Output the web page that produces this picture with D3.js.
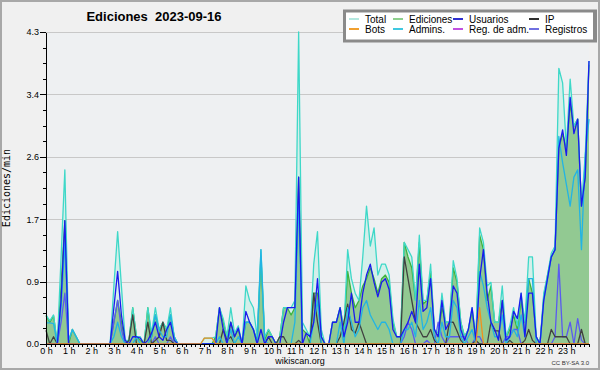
<!DOCTYPE html>
<html>
<head>
<meta charset="utf-8">
<script src="https://cdn.jsdelivr.net/npm/d3@7"></script>
<style>
  html, body { margin: 0; padding: 0; background: #f0f0f0; }
  svg { display: block; font-family: "Liberation Sans", Arial, sans-serif; }
</style>
</head>
<body>
<script>
// one value every 10 minutes, 00:00 .. 24:00 (145 points)
const hourLabels = ["0 h","1 h","2 h","3 h","4 h","5 h","6 h","7 h","8 h","9 h","10 h","11 h",
  "12 h","13 h","14 h","15 h","16 h","17 h","18 h","19 h","20 h","21 h","22 h","23 h"];
const yTicks = [0, 0.86, 1.72, 2.58, 3.44, 4.3];

const total = [
  0.4,0.32,0.4,0,1.2,2.4,0.05,0.2,0.1,0,0,0,
  0,0,0,0,0,0,0.8,1.55,0.8,0.05,0.05,0.5,
  0.1,0.1,0,0.5,0.15,0.5,0.2,0.3,0.2,0.5,0.1,0,
  0,0,0,0,0,0,0.08,0.08,0.08,0.1,0.5,0.35,
  0.1,0.5,0.15,0.25,0,0.8,0.6,0.5,0.1,1.3,0.1,0.2,
  0.1,0,0.1,0.5,0.5,0.5,0.6,4.3,0.3,0.2,0.1,1.1,
  1.55,0.2,0,0,0.3,0.3,0.5,0.2,1.3,0.9,0.7,0.6,
  1.2,1.9,1.35,1.6,0.95,1.1,1.1,0.95,0.35,0.1,0.1,1.4,
  1.3,1.2,0.6,1.5,0.6,0.6,1.1,0.2,0.15,0.7,0.3,0.3,
  1.15,0.9,0.3,0.1,0.2,0.5,0.1,1.6,1.4,0.8,0.85,0.3,
  0.3,0.8,0.1,0.25,0.5,0.25,0.7,0.3,1.2,1.2,0.1,0,
  0.7,0.95,1.25,1.35,3.8,3.6,2.7,3.65,3.0,3.1,1.9,2.6,
  3.9];
const ediciones = [
  0.39,0.3,0.39,0,0.8,1.7,0,0.2,0.1,0,0,0,
  0,0,0,0,0,0,0.3,0.6,0.3,0,0.05,0.5,
  0.1,0.05,0,0.5,0.1,0.4,0.2,0.3,0.2,0.4,0.1,0,
  0,0,0,0,0,0,0,0,0,0.1,0.5,0.3,
  0.1,0.3,0.1,0.2,0,0.3,0.3,0.2,0.05,1.2,0.05,0.2,
  0.1,0,0.1,0.5,0.5,0.4,0.5,2.3,0.2,0.15,0,0.7,
  0.7,0.1,0,0,0.3,0.3,0.5,0.2,1.0,0.7,0.5,0.6,
  0.8,0.9,1.05,0.9,0.7,0.9,0.95,0.85,0.3,0.1,0.1,1.4,
  1.2,1.05,0.6,1.4,0.55,0.6,1.0,0.2,0.1,0.5,0.3,0.3,
  1.05,0.85,0.3,0.1,0.2,0.45,0.05,1.5,1.3,0.6,0.8,0.3,
  0.3,0.6,0.1,0.2,0.4,0.2,0.6,0.3,0.9,0.7,0.1,0,
  0.65,0.95,1.2,1.3,2.7,2.9,2.7,3.3,3.0,3.1,1.9,2.3,
  3.85];
const usuarios = [
  0,0,0,0,0.6,1.7,0,0,0,0,0,0,
  0,0,0,0,0,0,0.5,1.0,0.4,0.05,0,0.1,
  0.1,0.08,0,0.05,0.15,0.3,0.1,0.05,0.2,0.3,0.05,0,
  0,0,0,0,0,0,0,0,0,0,0.5,0.2,
  0,0.3,0.1,0.22,0,0.45,0.3,0.2,0,0.2,0,0.1,
  0.1,0,0,0.3,0.5,0.5,0.5,2.3,0,0.15,0.1,0.3,
  0.9,0.1,0,0,0.3,0.3,0.5,0.1,0.3,0.7,0.3,0.3,
  0.7,0.95,1.1,0.85,0.65,0.85,0.9,0.75,0.2,0.1,0.1,0.2,
  0.3,0.45,0.3,1.1,0.45,0.5,0.9,0.2,0.1,0.6,0.2,0.3,
  0.8,0.7,0.2,0.05,0.2,0.5,0.05,0.9,1.3,0.7,0.3,0.2,
  0.05,0.6,0.05,0.1,0.45,0.35,0.7,0.1,0.7,0.7,0.1,0,
  0.6,0.9,1.2,1.3,2.7,2.95,2.6,3.4,2.9,3.1,1.9,2.3,
  3.9];
const ip = [
  0.19,0,0.1,0,0,0,0,0,0,0,0,0,
  0,0,0,0,0,0,0,0,0,0,0.05,0.4,
  0,0,0,0.3,0,0.05,0.1,0.3,0.05,0.05,0,0,
  0,0,0,0,0,0,0,0,0,0,0,0.2,
  0.05,0.1,0,0,0,0,0,0,0,0,0,0.1,
  0,0,0.1,0.1,0,0,0,0.05,0,0,0,0.7,
  0.3,0,0,0,0,0,0.1,0.3,0.55,0.2,0.15,0.3,
  0.15,0,0,0,0,0,0,0,0,0,0,1.2,
  0.9,0.6,0.3,0.2,0.1,0.1,0.2,0.05,0,0,0,0.3,
  0.3,0.18,0.05,0,0,0,0.05,0,0,0,0.3,0.18,
  0.18,0,0,0.05,0,0,0,0.05,0.2,0.05,0,0,
  0,0,0.2,0.1,0.1,0.1,0.1,0,0,0,0.2,0,
  0];
const bots = [
  0,0,0,0,0,0,0,0,0,0,0,0,
  0,0,0,0,0,0,0,0,0,0,0,0,
  0,0,0,0,0,0,0,0,0,0,0,0,
  0,0,0,0,0,0,0.08,0.08,0.08,0,0,0,
  0,0,0,0,0,0,0,0,0,0,0,0,
  0,0,0,0,0,0,0,0,0,0,0,0,
  0,0,0,0,0,0,0,0,0,0,0,0,
  0,0,0,0,0,0,0,0,0,0,0,0,
  0,0,0,0,0,0,0,0,0,0,0,0,
  0,0,0,0,0,0,0,0.5,0,0,0,0,
  0,0,0,0,0,0,0,0,0,0,0,0,
  0,0,0,0,0,0,0,0,0,0,0,0,
  0];
const admins = [
  0.29,0.29,0.28,0,0.5,1.4,0.05,0.2,0.1,0,0,0,
  0,0,0,0,0,0,0.1,0.3,0.1,0,0,0,
  0.1,0,0,0,0.1,0.4,0.2,0.1,0.1,0.4,0.1,0,
  0,0,0,0,0,0,0,0,0,0,0.1,0,
  0,0.2,0,0.1,0,0.3,0.3,0.2,0,1.3,0.05,0,
  0,0,0,0,0,0,0.3,2.0,0,0,0,0.3,
  0.6,0,0,0,0,0,0.3,0,0.5,0.3,0.1,0.2,
  0.5,0.6,0.4,0.3,0.2,0.3,0.3,0.2,0,0,0,0.2,
  0.2,0.3,0.1,0.6,0.2,0.3,0.5,0.1,0,0.3,0.1,0.1,
  0.6,0.5,0.1,0,0.1,0.2,0,1.0,0.8,0.5,0.3,0.1,
  0.1,0.4,0,0.1,0.2,0.1,0.4,0.1,0.9,0.9,0,0,
  0.6,0.9,1.2,1.3,2.86,2.5,2.2,1.9,2.3,2.4,1.3,2.6,
  3.1];
const regAdm = [
  0,0,0,0,0,0,0,0,0,0,0,0,
  0,0,0,0,0,0,0,0,0,0,0,0,
  0,0,0,0,0,0,0,0,0,0,0,0,
  0,0,0,0,0,0,0,0,0,0,0,0,
  0,0,0,0,0,0,0,0,0,0,0,0,
  0,0,0,0,0,0,0,0,0,0,0,0,
  0,0,0,0,0,0,0,0,0,0,0,0,
  0,0,0,0,0,0,0,0,0,0,0,0,
  0,0,0,0,0,0,0,0,0,0,0,0,
  0,0,0,0,0,0,0,0,0,0,0,0,
  0,0,0,0,0,0,0,0,0,0,0,0,
  0,0,0,0,0,0,0,0,0,0,0,0,
  0];
const registros = [
  0,0,0,0,0.3,0.7,0,0,0,0,0,0,
  0,0,0,0,0,0,0.3,0.6,0.2,0,0,0,
  0,0,0,0,0,0.1,0,0,0,0.1,0,0,
  0,0,0,0,0,0,0,0,0,0,0,0,
  0,0,0,0,0,0,0,0,0,0,0,0,
  0,0,0,0,0,0,0,0,0,0,0,0,
  0,0,0,0,0,0,0,0,0,0,0,0,
  0,0,0,0,0,0,0,0,0,0,0,0.1,
  0.3,0.2,0,0,0,0.05,0,0,0.3,0.1,0,0.1,
  0.1,0.1,0.1,0.1,0,0,0.1,0.1,0,0,0,0,
  0,0,0.1,0.1,0.2,0.2,0,0,0,0,0,0,
  0,0,0,0.1,1.1,0.1,0.1,0.3,0,0.35,0.05,0,
  0];

const W = 600, H = 370;
const pLeft = 46, pRight = 589, pTop = 32, pBottom = 344;

const svg = d3.select("body").append("svg")
  .attr("width", W).attr("height", H);

svg.append("rect").attr("x", 1).attr("y", 1).attr("width", W - 2).attr("height", H - 2)
  .attr("fill", "#f0f0f0").attr("stroke", "#a8a8a8").attr("stroke-width", 2);
svg.append("rect").attr("x", pLeft).attr("y", pTop).attr("width", pRight - pLeft).attr("height", pBottom - pTop)
  .attr("fill", "#eef0f2");

const x = d3.scaleLinear().domain([0, 1440]).range([pLeft, pRight]);
const y = d3.scaleLinear().domain([0, 4.3]).range([pBottom, pTop]);
const px = (d, i) => x(i * 10);

// grid
svg.append("g").selectAll("line")
  .data(yTicks.slice(1))
  .enter().append("line")
  .attr("x1", pLeft).attr("x2", pRight)
  .attr("y1", d => Math.round(y(d)) + 0.5).attr("y2", d => Math.round(y(d)) + 0.5)
  .attr("stroke", "#c8c8c8");

const area = d3.area().x(px).y0(y(0)).y1(d => y(d));
const line = d3.line().x(px).y(d => y(d));

svg.append("path").datum(total).attr("d", area).attr("fill", "#d4efea");
svg.append("path").datum(ediciones).attr("d", area).attr("fill", "#92c992");

const lines = [
  [regAdm, "#c040d8"],
  [ediciones, "#3cb43c"],
  [total, "#3ed8c8"],
  [registros, "#5a5af0"],
  [ip, "#404040"],
  [admins, "#22b4e4"],
  [usuarios, "#1a1aee"],
  [bots, "#f0901e"]
];
lines.forEach(([vals, col]) => {
  svg.append("path").datum(vals).attr("d", line)
    .attr("fill", "none").attr("stroke", col).attr("stroke-width", 1.3)
    .attr("stroke-linejoin", "round");
});

// axes
const xMinor = svg.append("g").attr("transform", `translate(0,${pBottom})`)
  .call(d3.axisBottom(x).tickValues(d3.range(0, 1441, 12)).tickSize(3).tickFormat(""));
xMinor.select(".domain").remove();
const xAxis = svg.append("g").attr("transform", `translate(0,${pBottom})`)
  .call(d3.axisBottom(x).tickValues(d3.range(0, 24).map(h => h * 60))
    .tickFormat((d, i) => hourLabels[i]).tickSize(3).tickSizeOuter(0).tickPadding(1));
xAxis.selectAll("text").attr("font-size", 9).attr("font-family", "Liberation Sans, Arial, sans-serif").attr("fill", "#000");

const yMinor = svg.append("g").attr("transform", `translate(${pLeft},0)`)
  .call(d3.axisLeft(y).tickValues(d3.range(0, 21).map(i => i * 0.215)).tickSize(3).tickFormat(""));
yMinor.select(".domain").remove();
const yAxis = svg.append("g").attr("transform", `translate(${pLeft},0)`)
  .call(d3.axisLeft(y).tickValues(yTicks).tickFormat(d3.format(".1f")).tickSize(6).tickSizeOuter(0).tickPadding(1));
yAxis.selectAll("text").attr("font-size", 9).attr("font-family", "Liberation Sans, Arial, sans-serif").attr("fill", "#000");
svg.selectAll(".domain, .tick line").attr("stroke", "#000").attr("shape-rendering", "crispEdges");

// titles
svg.append("text").attr("x", 154).attr("y", 21).attr("text-anchor", "middle")
  .attr("font-size", 13).attr("font-weight", "bold").style("white-space", "pre")
  .text("Ediciones  2023-09-16");
svg.append("text").attr("transform", "translate(10,188) rotate(-90)").attr("text-anchor", "middle")
  .attr("font-family", "DejaVu Sans Mono, monospace").attr("font-size", 10)
  .text("Ediciones/min");
svg.append("text").attr("x", 300).attr("y", 364).attr("text-anchor", "middle")
  .attr("font-size", 9).text("wikiscan.org");
svg.append("text").attr("x", 589).attr("y", 365).attr("text-anchor", "end")
  .attr("font-size", 6).attr("fill", "#333").text("CC BY-SA 3.0");

// legend
const legendItems = [
  ["Total", "#b4e8e0"], ["Ediciones", "#8ed08e"], ["Usuarios", "#3030d0"], ["IP", "#303030"],
  ["Bots", "#f0a030"], ["Admins.", "#40c8e0"], ["Reg. de adm.", "#c050e0"], ["Registros", "#7070e0"]
];
const colX = [349, 393, 453, 529];
const lg = svg.append("g");
lg.append("rect").attr("x", 343).attr("y", 9.5).attr("width", 254).attr("height", 33).attr("fill", "#8a8a8a");
lg.append("rect").attr("x", 346).attr("y", 12.5).attr("width", 247).attr("height", 27).attr("fill", "#fff");
legendItems.forEach(([name, col], i) => {
  const cx = colX[i % 4], cy = i < 4 ? 19 : 29;
  lg.append("line").attr("x1", cx).attr("x2", cx + 10).attr("y1", cy).attr("y2", cy)
    .attr("stroke", col).attr("stroke-width", 2);
  lg.append("text").attr("x", cx + 16).attr("y", cy + 3.6).attr("font-size", 10).text(name);
});
</script>
</body>
</html>
